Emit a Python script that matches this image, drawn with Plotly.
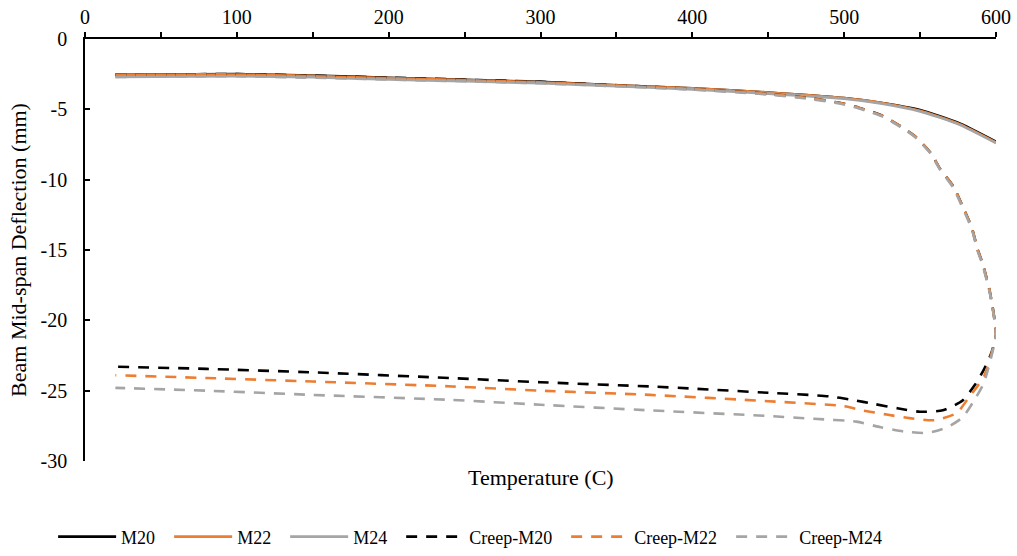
import plotly.graph_objects as go

# Solid (no creep) series
temp_solid = [20, 100, 150, 200, 250, 300, 350, 400, 450, 500, 525, 550, 575, 600]
m20 = [-2.55, -2.5, -2.6, -2.75, -2.9, -3.05, -3.3, -3.5, -3.8, -4.2, -4.55, -5.05, -5.95, -7.3]
m22 = [-2.55, -2.52, -2.62, -2.78, -2.92, -3.08, -3.3, -3.5, -3.8, -4.2, -4.55, -5.1, -6.0, -7.35]
m24 = [-2.7, -2.65, -2.72, -2.88, -3.0, -3.15, -3.35, -3.58, -3.88, -4.25, -4.6, -5.15, -6.05, -7.4]

# Creep series: heating branch
temp_heat = [20, 100, 200, 300, 400, 450, 480, 500, 510, 525, 537, 547, 557, 563, 572, 578, 584, 588, 591, 596, 600]
c20_heat = [-2.55, -2.5, -2.75, -3.05, -3.55, -3.9, -4.25, -4.6, -4.9, -5.45, -6.2, -6.95, -8.1, -9.2, -10.5, -11.9, -13.4, -15.0, -15.9, -18.0, -21.0]
c22_heat = [-2.55, -2.52, -2.78, -3.08, -3.55, -3.9, -4.25, -4.6, -4.9, -5.45, -6.2, -6.95, -8.1, -9.2, -10.5, -11.9, -13.4, -15.0, -15.9, -18.0, -21.0]
c24_heat = [-2.7, -2.65, -2.88, -3.15, -3.6, -3.95, -4.3, -4.65, -4.95, -5.5, -6.25, -7.0, -8.15, -9.25, -10.6, -12.0, -13.5, -15.1, -16.0, -18.1, -21.0]

# Creep series: cooling branch
temp_cool20 = [597, 592, 586, 578, 565, 550, 535, 520, 505, 490, 450, 400, 372, 300, 240, 150, 80, 20]
c20_cool = [-22.3, -23.5, -24.6, -25.7, -26.4, -26.5, -26.25, -25.95, -25.65, -25.4, -25.15, -24.85, -24.7, -24.4, -24.1, -23.7, -23.45, -23.3]
temp_cool22 = [598, 592, 582, 574, 559, 543, 528, 512, 500, 450, 372, 300, 242, 150, 80, 20]
c22_cool = [-22.0, -24.0, -25.5, -26.6, -27.1, -26.95, -26.7, -26.4, -26.1, -25.75, -25.3, -25.0, -24.7, -24.35, -24.1, -23.9]
temp_cool24 = [598, 592, 585, 578, 568, 555, 539, 524, 508, 480, 450, 372, 300, 240, 150, 80, 20]
c24_cool = [-22.1, -24.45, -25.8, -26.9, -27.6, -28.0, -27.9, -27.6, -27.2, -27.0, -26.8, -26.4, -26.0, -25.65, -25.3, -25.0, -24.8]

y_ticks = [0, -5, -10, -15, -20, -25, -30]
y_labels = ["0", "-5", "-10", "-15", "-20", "-25", "-30"]
x_ticks = [0, 100, 200, 300, 400, 500, 600]

BLACK, ORANGE, GREY = "#000000", "#ED7D31", "#A5A5A5"
FONT = "Liberation Serif"
PAD = "\u00a0\u00a0"

fig = go.Figure()
for name, y, c in [("M20", m20, BLACK), ("M22", m22, ORANGE), ("M24", m24, GREY)]:
    fig.add_trace(go.Scatter(x=temp_solid, y=y, name=name + PAD, mode="lines",
                             line=dict(color=c, width=2.6, shape="spline", smoothing=0.6)))
for name, th, yh, tc, yc, c in [
    ("Creep-M20", temp_heat, c20_heat, temp_cool20, c20_cool, BLACK),
    ("Creep-M22", temp_heat, c22_heat, temp_cool22, c22_cool, ORANGE),
    ("Creep-M24", temp_heat, c24_heat, temp_cool24, c24_cool, GREY),
]:
    fig.add_trace(go.Scatter(x=th + tc, y=yh + yc, name=name + PAD, mode="lines",
                             line=dict(color=c, width=2.6, dash="11px,9px", shape="spline", smoothing=0.6)))

fig.update_layout(
    width=1017, height=556,
    margin=dict(l=85, r=21, t=39, b=95, autoexpand=False),
    paper_bgcolor="white", plot_bgcolor="white",
    font=dict(family=FONT, size=18, color="black"),
    showlegend=True,
    legend=dict(orientation="h", x=-0.035, xanchor="left", y=-0.180, yanchor="middle",
                font=dict(family=FONT, size=18, color="black"), itemwidth=58,
                tracegroupgap=0),
    annotations=[dict(text="Temperature (C)", xref="paper", yref="paper", x=0.5, y=-0.040,
                      xanchor="center", yanchor="middle", showarrow=False,
                      font=dict(family=FONT, size=22, color="black"))],
)
fig.update_xaxes(range=[0, 600], side="top", tickvals=x_ticks, ticks="outside", ticklen=5,
                 tickwidth=1.5, tickcolor="black", showline=True, linecolor="black", linewidth=1.5,
                 showgrid=False, zeroline=False, automargin=False,
                 minor=dict(dtick=50, ticks="outside", ticklen=5, tickwidth=1.5, tickcolor="black", showgrid=False),
                 tickfont=dict(family=FONT, size=20, color="black"))
fig.update_yaxes(range=[-30, 0], tickvals=y_ticks, ticktext=y_labels, ticks="inside", ticklen=5,
                 tickwidth=1.5, tickcolor="black", showline=True, linecolor="black", linewidth=1.5,
                 showgrid=False, zeroline=False, ticklabelstandoff=12, automargin=False,
                 title=dict(text="Beam Mid-span Deflection (mm)", font=dict(family=FONT, size=22, color="black"),
                            standoff=8),
                 tickfont=dict(family=FONT, size=20, color="black"))

fig.write_html("out.html")
